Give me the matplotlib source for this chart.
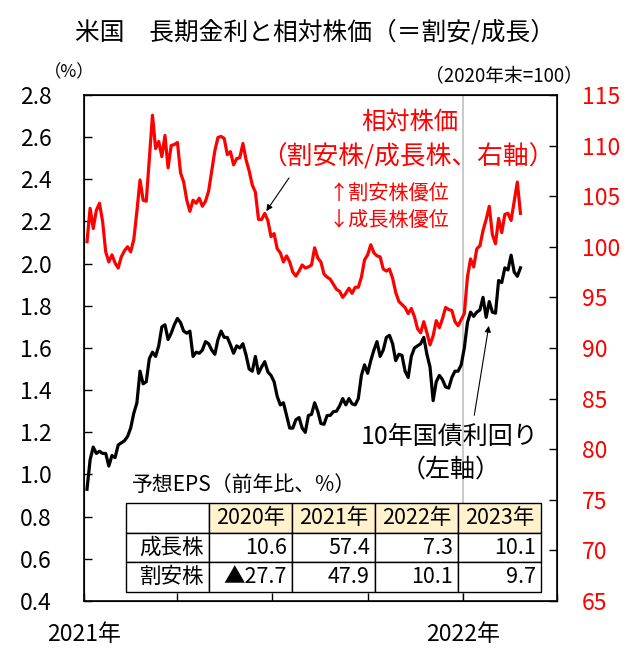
import numpy as np
import pandas as pd
import matplotlib
matplotlib.use("Agg")
import matplotlib.pyplot as plt
import matplotlib.ticker as mticker

plt.rcParams['font.family'] = ['Noto Sans CJK JP', 'DejaVu Sans']

dates = pd.date_range("2021-01-04", periods=140, freq="3D")

# relative price value/growth (2020 end = 100, right axis)
rel_price = [
    100.5, 103.8, 101.8, 103.6, 104.3, 102.5, 99.5, 98.5, 99.2, 98.4,
    97.9, 99.0, 99.6, 100.0, 99.5, 100.7, 103.5, 106.6, 104.6, 104.5,
    108.8, 113.0, 109.7, 110.4, 108.9, 111.0, 107.8, 110.0, 110.1, 110.3,
    107.3, 106.4, 104.6, 103.5, 104.6, 104.3, 104.8, 104.0, 104.5, 105.5,
    107.5, 109.5, 110.8, 110.9, 110.7, 109.1, 109.4, 108.1, 108.7, 108.8,
    110.2, 108.6, 107.5, 106.1, 105.4, 102.7, 102.7, 103.3, 102.6, 101.0,
    101.3, 99.8, 99.4, 98.5, 99.1, 98.5, 97.5, 97.1, 97.6, 98.2,
    97.9, 98.0, 98.2, 99.9, 98.9, 98.5, 97.3, 97.0, 96.8, 96.3,
    95.8, 95.6, 95.0, 95.4, 95.9, 95.4, 96.0, 96.0, 97.0, 98.7,
    99.2, 100.2, 99.4, 99.1, 99.0, 97.8, 97.6, 97.8, 96.9, 95.5,
    94.6, 94.3, 94.0, 93.4, 93.9, 93.1, 91.9, 91.5, 92.6, 91.5,
    90.3, 91.2, 92.7, 92.0, 92.9, 94.0, 93.8, 93.7, 92.6, 92.2,
    92.8, 93.4, 97.0, 98.8, 98.0, 99.8, 100.1, 101.6, 102.7, 104.0,
    101.2, 100.3, 102.8, 101.4, 103.2, 103.3, 102.6, 104.5, 106.4, 103.3,
]

# US 10y treasury yield (%, left axis)
yield_10y = [
    0.93, 1.07, 1.13, 1.10, 1.11, 1.10, 1.10, 1.04, 1.09, 1.08,
    1.14, 1.15, 1.16, 1.18, 1.22, 1.29, 1.34, 1.49, 1.43, 1.44,
    1.55, 1.58, 1.56, 1.61, 1.70, 1.71, 1.64, 1.67, 1.71, 1.74,
    1.72, 1.68, 1.67, 1.68, 1.56, 1.58, 1.575, 1.59, 1.63, 1.62,
    1.59, 1.57, 1.64, 1.68, 1.65, 1.65, 1.615, 1.575, 1.61, 1.60,
    1.62, 1.567, 1.50, 1.49, 1.56, 1.48, 1.51, 1.535, 1.487, 1.47,
    1.44, 1.37, 1.33, 1.34, 1.28, 1.22, 1.22, 1.26, 1.27, 1.22,
    1.20, 1.28, 1.285, 1.34, 1.30, 1.242, 1.238, 1.28, 1.28, 1.298,
    1.30, 1.325, 1.36, 1.33, 1.36, 1.335, 1.33, 1.36, 1.47, 1.52,
    1.48, 1.54, 1.59, 1.63, 1.56, 1.59, 1.65, 1.66, 1.62, 1.54,
    1.57, 1.565, 1.49, 1.46, 1.56, 1.60, 1.61, 1.62, 1.65, 1.57,
    1.51, 1.35, 1.44, 1.47, 1.45, 1.415, 1.41, 1.46, 1.49, 1.49,
    1.52, 1.60, 1.72, 1.77, 1.75, 1.77, 1.78, 1.84, 1.745, 1.82,
    1.77, 1.765, 1.92, 1.91, 1.98, 1.97, 2.04, 1.96, 1.94, 1.98,
]

# EPS forecast table
eps_years = ["2020年", "2021年", "2022年", "2023年"]
eps_rows = ["成長株", "割安株"]
eps_values = [
    ["10.6", "57.4", "7.3", "10.1"],
    ["▲27.7", "47.9", "10.1", "9.7"],
]

xticks = pd.to_datetime(["2021-01-01", "2021-04-01", "2021-07-01",
                         "2021-10-01", "2022-01-01", "2022-04-01"])
xtick_labels = ["2021年", "", "", "", "2022年", ""]

fig = plt.figure(figsize=(6.26, 6.48), dpi=100)
ax = fig.add_axes([0.134, 0.0725, 0.7555, 0.781])
ax2 = ax.twinx()

ax.axvline(pd.Timestamp("2022-01-01"), color="#c0c0c0", lw=1.2, zorder=1)
ax.plot(dates, yield_10y, color="black", lw=2.3, zorder=3)
ax2.plot(dates, rel_price, color="#ff0000", lw=2.3, zorder=3)

ax.set_xlim(xticks[0], xticks[-1])
ax.set_ylim(0.4, 2.8)
ax.yaxis.set_major_locator(mticker.MultipleLocator(0.2))
ax.yaxis.set_major_formatter(mticker.FormatStrFormatter("%.1f"))
ax2.set_ylim(65, 115)
ax2.yaxis.set_major_locator(mticker.MultipleLocator(5))

ax.set_xticks(xticks)
ax.set_xticklabels(xtick_labels)
ax.tick_params(axis="x", direction="in", length=6, width=1, pad=16, labelsize=16.5)
ax.tick_params(axis="y", direction="in", length=6, width=1, pad=23, labelsize=16.5)
ax2.tick_params(axis="y", direction="in", length=6, width=1, pad=18, labelsize=16.5,
                labelcolor="#ff0000")
for sp in ax2.spines.values():
    sp.set_linewidth(1.2)

# titles and units
fig.text(0.503, 0.9506, "米国　長期金利と相対株価（＝割安/成長）", fontsize=17.8,
         ha="center", va="center")
fig.text(0.11, 0.889, "（%）", fontsize=12.5, ha="center", va="center")
fig.text(0.805, 0.881, "（2020年末=100）", fontsize=13.5, ha="center", va="center")

# labels on the lines
ax2.text(0.689, 0.9466, "相対株価", color="#ff0000", fontsize=17.5,
         ha="center", va="center", transform=ax2.transAxes)
ax2.text(0.685, 0.8775, "（割安株/成長株、右軸）", color="#ff0000", fontsize=18.5,
         ha="center", va="center", transform=ax2.transAxes)
ax2.text(0.518, 0.806, "↑割安株優位", color="#ff0000", fontsize=14.5,
         ha="left", va="center", transform=ax2.transAxes)
ax2.text(0.518, 0.751, "↓成長株優位", color="#ff0000", fontsize=14.5,
         ha="left", va="center", transform=ax2.transAxes)
ax2.annotate("", xy=(pd.Timestamp("2021-06-24"), 103.3), xycoords="data",
             xytext=(0.437, 0.8405), textcoords="axes fraction",
             arrowprops=dict(arrowstyle="-|>", color="black", lw=0.8,
                             mutation_scale=9))

ax2.text(0.774, 0.324, "10年国債利回り", color="black", fontsize=18,
         ha="center", va="center", transform=ax2.transAxes)
ax2.text(0.776, 0.259, "（左軸）", color="black", fontsize=18,
         ha="center", va="center", transform=ax2.transAxes)
ax.annotate("", xy=(pd.Timestamp("2022-01-26"), 1.718), xycoords="data",
            xytext=(0.8245, 0.3617), textcoords="axes fraction",
            arrowprops=dict(arrowstyle="-|>", color="black", lw=0.8,
                            mutation_scale=9))

# EPS table: first column holds the row names
ax2.text(0.1015, 0.229, "予想EPS（前年比、%）", fontsize=15,
         ha="left", va="center", transform=ax2.transAxes)
cell_text = [[name] + vals for name, vals in zip(eps_rows, eps_values)]
tbl = ax2.table(cellText=cell_text, colLabels=[""] + eps_years,
                cellLoc="right", colLoc="center",
                bbox=[0.0888, 0.0178, 0.8774, 0.1759], zorder=10)
tbl.auto_set_font_size(False)
tbl.set_fontsize(15.5)
for (r, c), cell in tbl.get_celld().items():
    cell.set_linewidth(1.0)
    cell.set_edgecolor("black")
    cell.PAD = 0.06
    if r == 0 or c == 0:
        cell._loc = "center"
    if r == 0 and c > 0:
        cell.set_facecolor("#fff2cc")
    else:
        cell.set_facecolor("white")

fig.savefig("out.png", dpi=100)
